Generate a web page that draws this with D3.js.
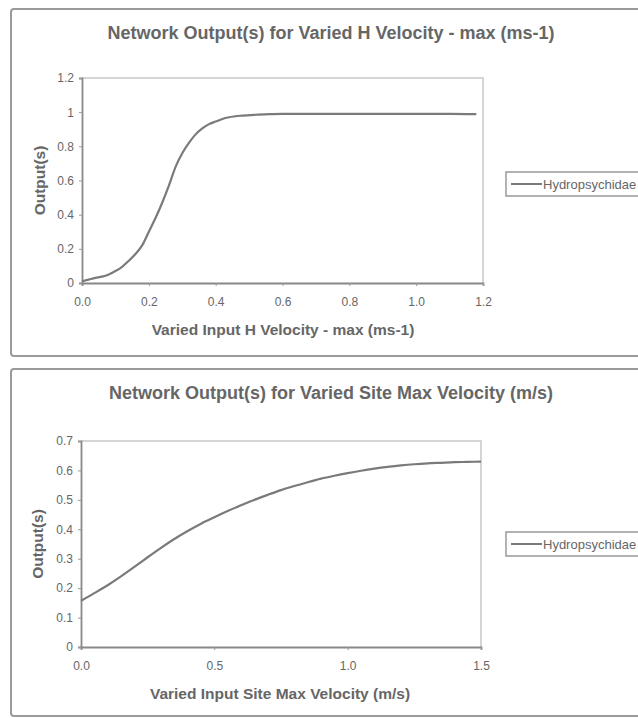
<!DOCTYPE html>
<html>
<head>
<meta charset="utf-8">
<script src="https://cdn.jsdelivr.net/npm/d3@7"></script>
<style>
  body { margin: 0; background: #fff; }
  svg { display: block; }
  text { font-family: "Liberation Sans", Arial, sans-serif; fill: #666; }
</style>
</head>
<body>
<div id="chart"></div>
<script>
// top chart: H velocity - max
const topX = [0, 0.02, 0.04, 0.06, 0.08, 0.10, 0.12, 0.14, 0.16, 0.18, 0.20, 0.22, 0.24, 0.26, 0.28, 0.30, 0.32, 0.34, 0.36, 0.38, 0.40, 0.42, 0.44, 0.48, 0.52, 0.56, 0.60, 0.70, 0.80, 0.90, 1.00, 1.10, 1.18]
const topY = [0.01, 0.02, 0.03, 0.037, 0.05, 0.07, 0.095, 0.13, 0.17, 0.22, 0.30, 0.38, 0.47, 0.57, 0.68, 0.76, 0.82, 0.87, 0.905, 0.93, 0.945, 0.96, 0.97, 0.98, 0.985, 0.988, 0.99, 0.99, 0.99, 0.99, 0.99, 0.99, 0.988]
const topXTicks = ["0.0", "0.2", "0.4", "0.6", "0.8", "1.0", "1.2"]
const topYTicks = ["0", "0.2", "0.4", "0.6", "0.8", "1", "1.2"]

// bottom chart: site max velocity
const botX = [0, 0.05, 0.10, 0.15, 0.20, 0.25, 0.30, 0.35, 0.40, 0.45, 0.50, 0.55, 0.60, 0.65, 0.70, 0.75, 0.80, 0.85, 0.90, 0.95, 1.00, 1.05, 1.10, 1.15, 1.20, 1.25, 1.30, 1.35, 1.40, 1.45, 1.50]
const botY = [0.157, 0.183, 0.21, 0.24, 0.272, 0.305, 0.337, 0.367, 0.394, 0.419, 0.441, 0.462, 0.482, 0.50, 0.517, 0.533, 0.547, 0.56, 0.572, 0.582, 0.591, 0.599, 0.606, 0.612, 0.617, 0.621, 0.624, 0.626, 0.628, 0.629, 0.63]
const botXTicks = ["0.0", "0.5", "1.0", "1.5"]
const botYTicks = ["0", "0.1", "0.2", "0.3", "0.4", "0.5", "0.6", "0.7"]

const seriesName = "Hydropsychidae"

const svg = d3.select("#chart").append("svg")
    .attr("width", 638)
    .attr("height", 718)

function drawChart(opts){
    let g = svg.append("g")

    // outer frame
    g.append("rect")
        .attr("x", 11).attr("y", opts.top)
        .attr("width", 660).attr("height", opts.height)
        .attr("rx", 3)
        .attr("fill", "#fff")
        .attr("stroke", "#9a9a9a")
        .attr("stroke-width", 2)

    g.append("text")
        .attr("x", 331).attr("y", opts.top + 30)
        .attr("text-anchor", "middle")
        .style("font-size", "18px")
        .style("font-weight", "bold")
        .text(opts.title)

    let x = d3.scaleLinear().domain([0, opts.xMax]).range([opts.left, opts.right])
    let y = d3.scaleLinear().domain([0, opts.yMax]).range([opts.bottom, opts.plotTop])

    // plot area border (top / right light)
    g.append("path")
        .attr("d", `M${opts.left},${opts.plotTop}H${opts.right}V${opts.bottom}`)
        .attr("fill", "none")
        .attr("stroke", "#c8c8c8")
        .attr("stroke-width", 1.5)

    let xAxis = g.append("g")
        .attr("transform", `translate(0,${opts.bottom})`)
        .call(d3.axisBottom(x)
            .tickValues(opts.xTicks.map(Number))
            .tickFormat((d, i) => opts.xTicks[i])
            .tickSize(3)
            .tickPadding(11))
    let yAxis = g.append("g")
        .attr("transform", `translate(${opts.left},0)`)
        .call(d3.axisLeft(y)
            .tickValues(opts.yTicks.map(Number))
            .tickFormat((d, i) => opts.yTicks[i])
            .tickSize(3)
            .tickPadding(5))

    ;[xAxis, yAxis].forEach(ax => {
        ax.select(".domain").attr("stroke", "#888").attr("stroke-width", 1.8)
        ax.selectAll(".tick line").attr("stroke", "#999")
        ax.selectAll(".tick text")
            .style("font-size", "12px")
            .style("font-family", "'Liberation Sans', Arial, sans-serif")
            .attr("fill", "#777")
    })

    let line = d3.line()
        .x(d => x(d[0]))
        .y(d => y(d[1]))
        .curve(d3.curveMonotoneX)

    g.append("path")
        .datum(opts.xs.map((v, i) => [v, opts.ys[i]]))
        .attr("d", line)
        .attr("fill", "none")
        .attr("stroke", "#7a7a7a")
        .attr("stroke-width", 2.2)

    g.append("text")
        .attr("x", opts.xTitleX).attr("y", opts.bottom + 52)
        .attr("text-anchor", "middle")
        .style("font-size", "15.5px")
        .style("font-weight", "bold")
        .text(opts.xTitle)

    g.append("text")
        .attr("transform", `translate(${opts.yTitleX},${(opts.plotTop + opts.bottom) / 2}) rotate(-90)`)
        .attr("text-anchor", "middle")
        .style("font-size", "15.5px")
        .style("font-weight", "bold")
        .text("Output(s)")

    // legend
    let leg = g.append("g").attr("transform", `translate(506,${opts.legendY})`)
    leg.append("rect")
        .attr("x", 0).attr("y", 0)
        .attr("width", 150).attr("height", 24)
        .attr("fill", "#fff")
        .attr("stroke", "#999")
        .attr("stroke-width", 1.5)
    leg.append("line")
        .attr("x1", 5).attr("x2", 36)
        .attr("y1", 12).attr("y2", 12)
        .attr("stroke", "#7a7a7a")
        .attr("stroke-width", 2)
    leg.append("text")
        .attr("x", 37).attr("y", 16.5)
        .style("font-size", "13px")
        .text(seriesName)
}

drawChart({
    top: 9, height: 347,
    title: "Network Output(s) for Varied H Velocity - max (ms-1)",
    left: 82, right: 483, plotTop: 78, bottom: 283,
    xMax: 1.2, yMax: 1.2,
    xTicks: topXTicks, yTicks: topYTicks,
    xs: topX, ys: topY,
    xTitle: "Varied Input H Velocity - max (ms-1)", xTitleX: 283,
    yTitleX: 45,
    legendY: 172
})

drawChart({
    top: 369, height: 347,
    title: "Network Output(s) for Varied Site Max Velocity (m/s)",
    left: 81, right: 481, plotTop: 441, bottom: 647,
    xMax: 1.5, yMax: 0.7,
    xTicks: botXTicks, yTicks: botYTicks,
    xs: botX, ys: botY,
    xTitle: "Varied Input Site Max Velocity (m/s)", xTitleX: 280,
    yTitleX: 43,
    legendY: 532
})
</script>
</body>
</html>
